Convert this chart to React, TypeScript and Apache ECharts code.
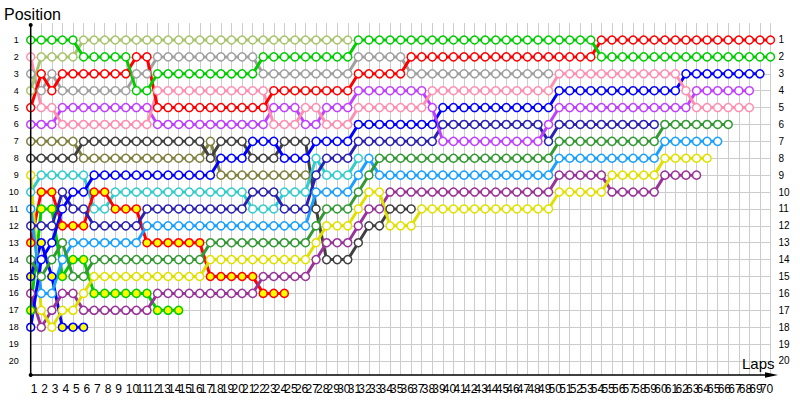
import React, { useEffect, useRef } from "react";
import * as echarts from "echarts";

// lap indices (0 = grid) ; tick labels 1..70
const lapIndex: string[] = Array.from({ length: 71 }, (_, i) => String(i));
const positions = [1, 2, 3, 4, 5, 6, 7, 8, 9, 10, 11, 12, 13, 14, 15, 16, 17, 18, 19, 20];

const G = [1,1,1,1,1, 2,2,2,2,2, 4,4, 3,3,3,3,3,3,3,3,3,3, 2,2,2,2,2,2,2,2,2, 1,1,1,1,1,1,1,1,1,1,1,1,1,1,1,1,1,1,1,1,1,1,1, 2,2,2,2,2,2,2,2,2,2,2,2,2,2,2,2,2];
const LO = [4,2,2,2,2, 1,1,1,1,1,1,1,1,1,1,1,1,1,1,1,1,1,1,1,1,1,1,1,1,1,1];
const GR = [3,4,3, 4,4,4,4,4,4,4, 3,3, 2,2,2,2,2,2,2,2,2,2, 3,3,3,3,3,3,3,3,3, 2,2,2,2,2, 3,3,3,3,3,3,3,3,3,3,3,3,3,3];
const R = [5,3,4, 3,3,3,3,3,3,3, 2,2, 5,5,5,5,5,5,5,5,5,5,5, 4,4,4,4,4,4,4,4, 3,3,3,3,3, 2,2,2,2,2,2,2,2,2,2,2,2,2,2,2,2,2,2, 1,1,1,1,1,1,1,1,1,1,1,1,1,1,1,1,1];
const PK = [2,5,5, 6,6,6,6,6,6,6,6,6, 4,4,4,4,4,4,4,4,4,4,4, 6,6,6, 5,5, 6,6,6, 5,5,5,5,5,5,5, 4,4,4,4,4,4,4,4,4,4,4,4, 3,3,3,3,3,3,3,3,3,3,3,3, 4, 5,5,5,5,5,5];
const V = [6,6,6, 5,5,5,5,5,5,5,5,5, 6,6,6,6,6,6,6,6,6,6,6, 5,5,5, 6,6, 5,5,5, 4,4,4,4,4,4,4, 5, 7,7,7,7,7,7,7,7,7,7, 6, 5,5,5,5,5,5,5,5,5,5,5,5,5, 4,4,4,4,4,4];
const B = [18,14,13,11,10,10, 9,9,9,9,9,9,9,9,9,9,9,9, 8,8,8, 7,7,7, 8,8,8, 7,7,7,7, 6,6,6,6,6,6,6,6, 5,5,5,5,5,5,5,5,5,5,5, 4,4,4,4,4,4,4,4,4,4,4,4, 3,3,3,3,3,3,3,3];
const N = [12,12,12,10,11,11, 12,12,12,12,12, 11,11,11,11,11,11,11,11,11,11, 10,10,10, 11,11,11, 9, 8,8,8, 7,7,7,7,7,7,7,7, 6,6,6,6,6,6,6,6,6,6, 7, 6,6,6,6,6,6,6,6,6,6];
const OL = [7,7,7,7,7, 8,8,8,8,8,8,8,8,8,8,8,8, 7, 9,9,9,9,9,9,9,9,9];
const DK = [8,8,8,8,8, 7,7,7,7,7,7,7,7,7,7,7,7, 8, 7,7,7, 8,8,8, 7,7,7, 11, 14,14,14, 13, 12,12, 11,11,11];
const Y = [9,17,18,17,17,16, 15,15,15,15,15,15,15,15,15,15,15, 14,14,14,14,14,14,14,14,14,14, 13, 12,12,12, 11, 10,10, 12,12,12, 11,11,11,11,11,11,11,11,11,11,11,11,11, 10,10,10,10,10, 9,9,9,9,9, 8,8,8,8,8];
const C = [10,9,9,9,9,9, 11,11, 10,10,10,10,10,10,10,10,10,10,10,10,10, 11,11,11, 10,10,10, 8, 9,9,9, 8];
const LB = [11,16,16,14, 13,13,13,13,13,13,13, 12,12,12,12,12,12,12,12,12,12,12,12,12,12,12,12, 10, 10,10,10, 9, 8, 9,9,9,9,9,9,9,9,9,9,9,9,9,9,9,9,9, 8,8,8,8,8,8,8,8,8,8, 7,7,7,7,7,7];
const DG = [14,15,14,13,15,15, 14,14,14,14,14,14,14,14,14,14,14, 13,13,13,13,13,13,13,13,13,13, 12, 11,11,11, 10, 9, 8,8,8,8,8,8,8,8,8,8,8,8,8,8,8,8,8, 7,7,7,7,7,7,7,7,7,7, 6,6,6,6,6,6,6];
const RY = [13,10,10,12,12,12, 10,10, 11,11,11, 13,13,13,13,13,13, 15,15,15,15,15, 16,16,16];
const BY = [15,13,15,18,18,18];
const GY = [17,11,11,15,14,14, 16,16,16,16,16,16, 17,17,17];
const P = [16,18,17,16,16, 17,17,17,17,17,17,17, 16,16,16,16,16,16,16,16,16,16, 15,15,15,15,15, 14, 13,13,13, 12, 11,11, 10,10,10,10,10,10,10,10,10,10,10,10,10,10,10,10, 9,9,9,9,9, 10,10,10,10,10, 9,9,9,9];

const drivers = [
  { name: "OL", color: "#808040", fill: "#ffffff", data: OL },
  { name: "DK", color: "#404040", fill: "#ffffff", data: DK },
  { name: "C", color: "#33cccc", fill: "#ffffff", data: C },
  { name: "GY", color: "#00cc00", fill: "#ffff00", data: GY },
  { name: "RY", color: "#ff0000", fill: "#ffff00", data: RY },
  { name: "BY", color: "#0000ff", fill: "#ffff00", data: BY },
  { name: "P", color: "#993399", fill: "#ffffff", data: P },
  { name: "Y", color: "#e0e000", fill: "#ffffff", data: Y },
  { name: "LB", color: "#1aa0ff", fill: "#ffffff", data: LB },
  { name: "DG", color: "#339933", fill: "#ffffff", data: DG },
  { name: "N", color: "#2a22b0", fill: "#ffffff", data: N },
  { name: "B", color: "#0000ff", fill: "#ffffff", data: B },
  { name: "V", color: "#c040ff", fill: "#ffffff", data: V },
  { name: "PK", color: "#ff8fb0", fill: "#ffffff", data: PK },
  { name: "GR", color: "#a0a0a0", fill: "#ffffff", data: GR },
  { name: "LO", color: "#a8c46c", fill: "#ffffff", data: LO },
  { name: "R", color: "#ff0000", fill: "#ffffff", data: R },
  { name: "G", color: "#00cc00", fill: "#ffffff", data: G },
];

const FONT = "Liberation Sans, Arial, sans-serif";

export default function App() {
  const ref = useRef<HTMLDivElement>(null);
  useEffect(() => {
    if (!ref.current) return;
    const chart = echarts.init(ref.current, undefined, { renderer: "svg" });
    const gridLeft = 30.7;
    const gridRight = 770.5;
    const splitColors = ["rgba(0,0,0,0)"].concat(positions.map(() => "#cccccc"), ["rgba(0,0,0,0)"]);
    chart.setOption({
      animation: false,
      backgroundColor: "#ffffff",
      grid: { left: gridLeft, right: 800 - gridRight, top: 23.1, bottom: 25, containLabel: false },
      xAxis: {
        type: "category",
        data: lapIndex,
        boundaryGap: false,
        axisLine: { show: false },
        axisTick: { show: false },
        splitLine: { show: true, interval: 0, lineStyle: { color: "#cccccc", width: 1 } },
        axisLabel: {
          interval: 0,
          align: "left",
          margin: 8,
          color: "#000000",
          fontFamily: FONT,
          fontSize: 12,
          formatter: (_v: string, idx: number) => (idx < 70 ? String(idx + 1) : ""),
        },
      },
      yAxis: [
        {
          type: "value",
          inverse: true,
          min: 0,
          max: 20.83,
          interval: 1,
          axisLine: { show: false },
          axisTick: { show: false },
          splitLine: { show: true, lineStyle: { color: splitColors, width: 1 } },
          axisLabel: {
            margin: 12,
            color: "#000000",
            fontFamily: FONT,
            fontSize: 9,
            formatter: (v: number) => (Number.isInteger(v) && v >= 1 && v <= 20 ? String(v) : ""),
          },
        },
        {
          type: "value",
          inverse: true,
          position: "right",
          min: 0,
          max: 20.83,
          interval: 1,
          axisLine: { show: false },
          axisTick: { show: false },
          splitLine: { show: false },
          axisLabel: {
            margin: 8,
            color: "#000000",
            fontFamily: FONT,
            fontSize: 10,
            formatter: (v: number) => (Number.isInteger(v) && v >= 1 && v <= 20 ? String(v) : ""),
          },
        },
      ],
      series: drivers.map((d) => ({
        name: d.name,
        type: "line",
        yAxisIndex: 0,
        data: d.data,
        symbol: "circle",
        symbolSize: 8,
        showAllSymbol: true,
        lineStyle: { color: d.color, width: 3 },
        itemStyle: { color: d.fill, borderColor: d.color, borderWidth: 1.5 },
        emphasis: { disabled: true },
        z: 3,
      })),
      graphic: [
        { type: "line", shape: { x1: gridLeft, y1: 375, x2: 770, y2: 375 }, style: { stroke: "#000", lineWidth: 1.5 }, z: 100 },
        { type: "polygon", shape: { points: [[765, 372.3], [778, 375], [765, 377.7]] }, style: { fill: "#000" }, z: 100 },
        { type: "line", shape: { x1: gridLeft, y1: 25, x2: gridLeft, y2: 375 }, style: { stroke: "#000", lineWidth: 1.5 }, z: 100 },
        { type: "circle", shape: { cx: gridLeft, cy: 25, r: 2 }, style: { fill: "#000" }, z: 100 },
        { type: "circle", shape: { cx: gridLeft, cy: 375, r: 2 }, style: { fill: "#000" }, z: 100 },
        { type: "text", left: 4, top: 6, style: { text: "Position", fontSize: 16, fontFamily: FONT, fill: "#000" }, z: 100 },
        { type: "text", left: 742, top: 356, style: { text: "Laps", fontSize: 15, fontFamily: FONT, fill: "#000" }, z: 100 },
      ],
    });
    return () => chart.dispose();
  }, []);
  return <div ref={ref} style={{ position: "absolute", left: 0, top: 0, width: 800, height: 400 }} />;
}
